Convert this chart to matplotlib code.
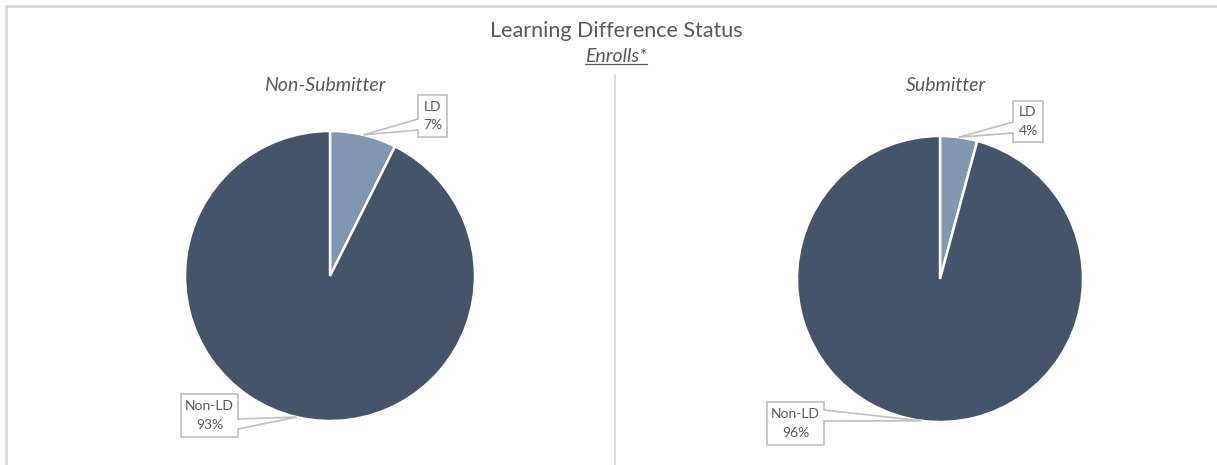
import matplotlib
matplotlib.use("Agg")
import matplotlib.pyplot as plt
from matplotlib.patches import Polygon
from matplotlib.lines import Line2D
import numpy as np

# ---- data ----
title = "Learning Difference Status"
subtitle = "Enrolls*"
groups = ["Non-Submitter", "Submitter"]
categories = ["LD", "Non-LD"]
ld_share = [7.4, 4.2]
non_ld_share = [92.6, 95.8]

# ---- style ----
W, H = 1217, 465
colors = ["#8497B0", "#44546A"]
txt = "#595959"
grid = "#D9D9D9"
plt.rcParams['font.family'] = ['Lato', 'DejaVu Sans']

fig = plt.figure(figsize=(W / 100, H / 100), dpi=100)


def fx(x):
    return x / W


def fy(y):
    return 1 - y / H


# border + divider
fig.add_artist(Line2D([fx(6), fx(6), fx(1216)], [fy(465), fy(6), fy(6)],
                      transform=fig.transFigure, color=grid, lw=2))
fig.add_artist(Line2D([fx(615), fx(615)], [fy(75), fy(465)],
                      transform=fig.transFigure, color=grid, lw=1.3))

fig.text(fx(616), fy(31), title, ha='center', va='center', fontsize=15.5, color=txt)
sub = fig.text(fx(616), fy(57), subtitle, ha='center', va='center', fontsize=14,
               style='italic', color=txt)

# pie layout: (center x, center y, radius) in pixels
layouts = [(330, 276, 145), (940, 279, 143)]
title_pos = [(325, 85), (946, 85)]
# callout boxes per pie: for each category (x0, x1, y0, y1, base_y0, base_y1, side)
boxes = [
    [(418, 447, 95, 137, 119, 130, 'left'), (181, 238, 394, 437, 419, 429, 'right')],
    [(1013, 1043, 101, 142, 122, 133, 'left'), (767, 824, 402, 445, 410, 421, 'right')],
]

for i, g in enumerate(groups):
    cx, cy, r = layouts[i]
    ax = fig.add_axes([fx(cx - r), fy(cy + r), 2 * r / W, 2 * r / H])
    vals = [ld_share[i], non_ld_share[i]]
    ax.pie(vals, colors=colors, startangle=90, counterclock=False, radius=1,
           wedgeprops=dict(edgecolor='white', linewidth=1.8))
    ax.set_xlim(-1, 1)
    ax.set_ylim(-1, 1)
    ax.set_aspect('auto')
    ax.axis('off')
    fig.text(fx(title_pos[i][0]), fy(title_pos[i][1]), g, ha='center', va='center',
             fontsize=14, style='italic', color=txt)

    total = sum(vals)
    start = 0.0
    for j, cat in enumerate(categories):
        frac = vals[j] / total
        mid = (start + frac / 2) * 2 * np.pi
        start += frac
        tx = cx + r * np.sin(mid)
        ty = cy - r * np.cos(mid)
        x0, x1, y0, y1, b0, b1, side = boxes[i][j]
        if side == 'left':
            pts = [(x0, y0), (x1, y0), (x1, y1), (x0, y1), (x0, b1), (tx, ty), (x0, b0)]
        else:
            pts = [(x0, y0), (x1, y0), (x1, b0), (tx, ty), (x1, b1), (x1, y1), (x0, y1)]
        poly = Polygon([(fx(a), fy(b)) for a, b in pts], closed=True,
                       transform=fig.transFigure, facecolor='white',
                       edgecolor='#BFBFBF', lw=1.2, zorder=5)
        fig.add_artist(poly)
        label = f"{cat}\n{round(vals[j]):.0f}%"
        fig.text(fx((x0 + x1) / 2), fy((y0 + y1) / 2), label, ha='center',
                 va='center', fontsize=10, color=txt, linespacing=1.65,
                 zorder=6)

fig.canvas.draw()
bb = sub.get_window_extent(fig.canvas.get_renderer())
uy = (bb.y0 + 1) / H
fig.add_artist(Line2D([bb.x0 / W, bb.x1 / W], [uy, uy], transform=fig.transFigure,
                      color=txt, lw=0.9))

fig.savefig("out.png", dpi=100, facecolor='white')
